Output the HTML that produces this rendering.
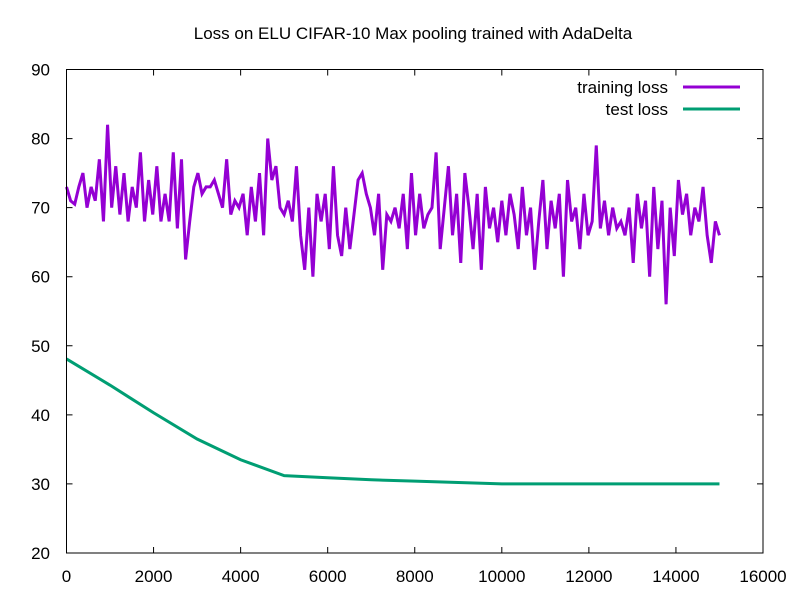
<!DOCTYPE html>
<html><head><meta charset="utf-8"><style>
body{margin:0;background:#fff;}
svg text{font-family:"Liberation Sans",sans-serif;}
</style></head><body>
<svg id="chart" width="800" height="600" xmlns="http://www.w3.org/2000/svg">
<rect width="800" height="600" fill="#fff"/>
<text x="413" y="39" font-size="17" text-anchor="middle">Loss on ELU CIFAR-10 Max pooling trained with AdaDelta</text>
<g id="grid"></g>
<g id="series"></g>
<rect x="66.5" y="69.5" width="696.5" height="483.5" fill="none" stroke="#000" stroke-width="1"/>
<g>
<text x="668" y="93" font-size="17" text-anchor="end">training loss</text>
<line x1="683" y1="87" x2="740" y2="87" stroke="#9400d3" stroke-width="3"/>
<text x="668" y="115" font-size="17" text-anchor="end">test loss</text>
<line x1="683" y1="109" x2="740" y2="109" stroke="#009e73" stroke-width="3"/>
</g>
</svg>
<script>
const xTicks=[0,2000,4000,6000,8000,10000,12000,14000,16000];
const yTicks=[20,30,40,50,60,70,80,90];
const trainEnd=15000;
const trainLoss=[73,71,70.5,73,75,70,73,71,77,68,82,70,76,69,75,68,73,70,78,68,74,69,76,68,72,68,78,67,77,62.5,68,73,75,72,73,73,74,72,70,77,69,71,70,72,66,73,68,75,66,80,74,76,70,69,71,68,76,66,61,70,60,72,68,72,64,76,66,63,70,64,69,74,75,72,70,66,72,61,69,68,70,67,72,64,75,66,72,67,69,70,78,64,70,76,66,72,62,75,70,64,72,61,73,67,70,65,71,66,72,69,64,73,66,70,61,68,74,64,71,67,72,60,74,68,70,64,72,66,68,79,67,71,66,70,67,68,66,70,62,72,67,71,60,73,64,71,56,70,63,74,69,72,66,70,68,73,66,62,68,66];
const testX=[0,1000,2000,3000,4000,5000,6000,7000,8000,9000,10000,11000,12000,13000,14000,15000];
const testLoss=[48.1,44.3,40.3,36.5,33.5,31.2,30.9,30.6,30.4,30.2,30.0,30.0,30.0,30.0,30.0,30.0];
const X=v=>66.5+v/16000*696.5;
const Y=v=>553-(v-20)/70*483.5;
const NS="http://www.w3.org/2000/svg";
const g=document.getElementById('grid'),s=document.getElementById('series');
function mk(t,a,p){const e=document.createElementNS(NS,t);for(const k in a)e.setAttribute(k,a[k]);p.appendChild(e);return e;}
xTicks.forEach(v=>{const x=X(v);
const l=mk('path',{d:`M${x},553v-6M${x},69.5v6`,stroke:'#000','stroke-width':1},g);


const t=mk('text',{x:x,y:582,'font-size':17,'text-anchor':'middle'},g);t.textContent=v;

});
yTicks.forEach(v=>{const y=Y(v);
const l=mk('path',{d:`M66.5,${y}h6M763,${y}h-6`,stroke:'#000','stroke-width':1},g);


const t=mk('text',{x:50,y:y+6,'font-size':17,'text-anchor':'end'},g);t.textContent=v;

});
const step=trainEnd/(trainLoss.length-1);
const tp=mk('polyline',{points:trainLoss.map((v,i)=>X(i*step)+','+Y(v)).join(' '),fill:'none',stroke:'#9400d3','stroke-width':3},s);


const sp=mk('polyline',{points:testLoss.map((v,i)=>X(testX[i])+','+Y(v)).join(' '),fill:'none',stroke:'#009e73','stroke-width':3},s);


</script>
</body></html>
